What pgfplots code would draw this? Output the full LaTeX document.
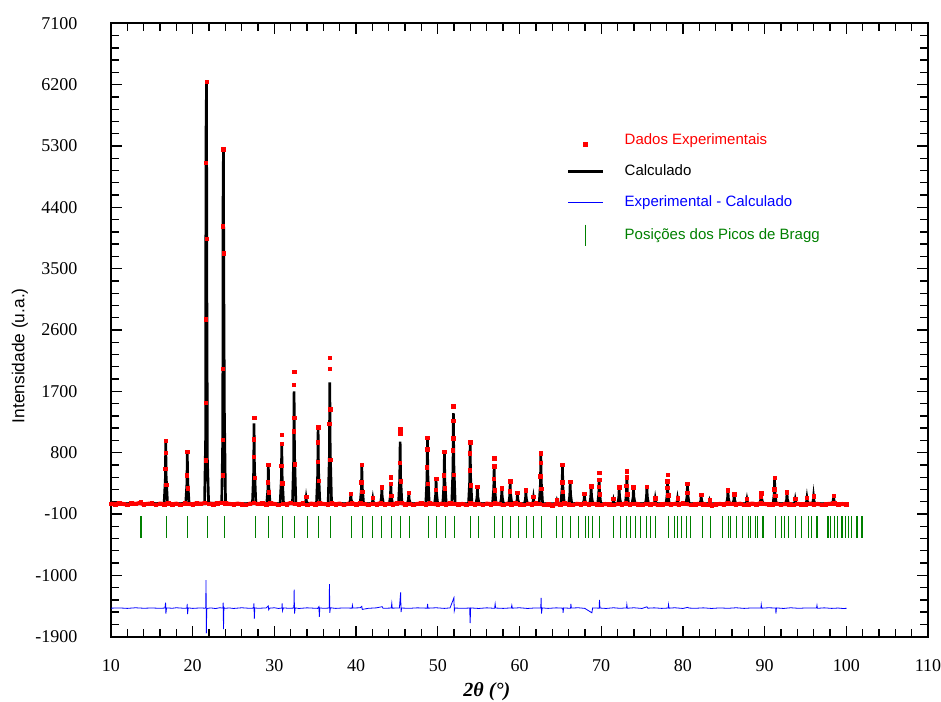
\documentclass[border=0pt]{standalone}
\usepackage{fontspec}
\setmainfont{Liberation Serif}
\newfontfamily\arialf{Liberation Sans}
\usepackage{pgfplots}
\usepackage{pgfplotstable}
\pgfplotsset{compat=1.18}
\definecolor{obsred}{RGB}{255,0,0}
\definecolor{bgreen}{RGB}{0,128,0}
\definecolor{dblue}{RGB}{0,0,255}
\pgfplotsset{
  linelegend/.style={legend image code/.code={\draw[##1] (0pt,0pt) -- (26pt,0pt);}},
  marklegend/.style={legend image code/.code={\draw[##1] plot coordinates {(13pt,-3pt)};}},
  barlegend/.style={legend image code/.code={\draw[##1] plot coordinates {(13pt,0pt)};}},
}

\pgfplotstableread[row sep=\\]{x y\\
10 52\\ 10.5 44\\ 11 58\\ 11.5 47\\ 12 39\\ 12.5 55\\ 13 49\\ 13.5 61\\ 14 42\\ 14.5 50\\
15 57\\ 15.5 38\\ 16 53\\ 16.5 46\\ 17 60\\ 17.5 41\\ 18 52\\ 18.5 35\\ 19 56\\ 19.5 48\\
20 43\\ 20.5 59\\ 21 50\\ 21.5 62\\ 22 54\\ 22.5 45\\ 23 57\\ 23.5 66\\ 24 58\\ 24.5 49\\
25 40\\ 25.5 53\\ 26 44\\ 26.5 36\\ 27 51\\ 27.5 63\\ 28 47\\ 28.5 55\\ 29 42\\ 29.5 58\\
30 49\\ 30.5 37\\ 31 54\\ 31.5 45\\ 32 61\\ 32.5 50\\ 33 43\\ 33.5 56\\ 34 39\\ 34.5 52\\
35 46\\ 35.5 60\\ 36 48\\ 36.5 41\\ 37 57\\ 37.5 44\\ 38 53\\ 38.5 35\\ 39 50\\ 39.5 58\\
40 42\\ 40.5 55\\ 41 47\\ 41.5 38\\ 42 52\\ 42.5 45\\ 43 59\\ 43.5 40\\ 44 51\\ 44.5 46\\
45 56\\ 45.5 62\\ 46 44\\ 46.5 53\\ 47 37\\ 47.5 49\\ 48 55\\ 48.5 43\\ 49 58\\ 49.5 47\\
50 40\\ 50.5 54\\ 51 46\\ 51.5 60\\ 52 52\\ 52.5 41\\ 53 48\\ 53.5 36\\ 54 57\\ 54.5 45\\
55 50\\ 55.5 39\\ 56 53\\ 56.5 44\\ 57 58\\ 57.5 47\\ 58 35\\ 58.5 52\\ 59 43\\ 59.5 55\\
60 46\\ 60.5 38\\ 61 51\\ 61.5 42\\ 62 56\\ 62.5 49\\ 63 37\\ 63.5 44\\ 64 30\\ 64.5 48\\
65 41\\ 65.5 55\\ 66 46\\ 66.5 36\\ 67 50\\ 67.5 43\\ 68 57\\ 68.5 40\\ 69 52\\ 69.5 45\\
70 38\\ 70.5 47\\ 71 42\\ 71.5 33\\ 72 49\\ 72.5 44\\ 73 56\\ 73.5 41\\ 74 52\\ 74.5 46\\
75 39\\ 75.5 53\\ 76 44\\ 76.5 49\\ 77 36\\ 77.5 45\\ 78 51\\ 78.5 40\\ 79 48\\ 79.5 43\\
80 55\\ 80.5 47\\ 81 38\\ 81.5 44\\ 82 50\\ 82.5 41\\ 83 35\\ 83.5 30\\ 84 42\\ 84.5 48\\
85 44\\ 85.5 56\\ 86 49\\ 86.5 43\\ 87 51\\ 87.5 37\\ 88 46\\ 88.5 53\\ 89 42\\ 89.5 57\\
90 48\\ 90.5 40\\ 91 45\\ 91.5 52\\ 92 38\\ 92.5 47\\ 93 44\\ 93.5 36\\ 94 50\\ 94.5 42\\
95 46\\ 95.5 53\\ 96 41\\ 96.5 48\\ 97 35\\ 97.5 44\\ 98 50\\ 98.5 55\\ 99 42\\ 99.5 47\\
100 44\\
}\obsbase

\pgfplotstableread[row sep=\\]{x y\\
13.67 75\\ 16.70 975\\ 16.65 560\\ 16.76 330\\ 16.68 800\\
19.34 810\\ 19.29 468\\ 19.40 278\\
21.69 6240\\ 21.63 5050\\ 21.73 3940\\ 21.61 2760\\ 21.60 1530\\ 21.58 690\\
23.76 5250\\ 23.71 4120\\ 23.80 3725\\ 23.71 2030\\ 23.70 990\\ 23.69 470\\
27.51 1310\\ 27.47 1000\\ 27.46 743\\ 27.57 428\\
29.26 620\\ 29.21 364\\ 29.32 221\\
30.90 1060\\ 30.87 930\\ 30.85 606\\ 30.96 353\\
32.41 1990\\ 32.40 1800\\ 32.44 1310\\ 32.36 1117\\ 32.47 632\\
33.88 150\\
35.35 1170\\ 35.31 950\\ 35.30 666\\ 35.41 386\\
36.78 2190\\ 36.78 2030\\ 36.84 1440\\ 36.73 1227\\ 36.85 692\\
39.35 200\\ 40.70 625\\ 40.65 366\\ 40.76 223\\ 42.05 140\\ 43.15 290\\ 44.25 440\\ 44.24 340\\ 44.31 167\\
45.39 1140\\ 45.38 1080\\ 45.35 650\\ 45.45 377\\ 46.45 210\\
48.73 1020\\ 48.69 850\\ 48.68 584\\ 48.79 341\\
49.79 420\\ 49.74 254\\ 50.81 810\\ 50.76 468\\ 50.87 278\\
51.91 1480\\ 51.90 1270\\ 51.87 1010\\ 51.86 836\\ 51.97 479\\
53.96 950\\ 53.92 790\\ 53.91 545\\ 54.02 320\\ 54.85 300\\
56.90 715\\ 56.89 600\\ 56.85 416\\ 56.96 250\\ 57.84 280\\ 58.86 380\\ 58.81 232\\ 59.75 210\\ 60.78 250\\ 61.71 150\\
62.61 790\\ 62.57 650\\ 62.56 457\\ 62.67 272\\ 64.57 110\\
65.26 625\\ 65.21 366\\ 65.32 223\\ 66.20 370\\ 67.95 200\\ 68.77 310\\
69.75 505\\ 69.74 400\\ 69.70 300\\ 69.81 187\\ 71.50 120\\ 72.20 290\\
73.14 525\\ 73.13 440\\ 73.09 311\\ 73.20 192\\ 73.95 290\\ 75.59 300\\ 76.61 130\\
78.12 475\\ 78.11 380\\ 78.07 284\\ 78.18 178\\ 79.34 130\\ 80.56 345\\ 80.51 212\\
82.24 180\\ 83.26 100\\ 85.51 250\\ 86.28 190\\ 87.84 120\\ 89.59 205\\ 89.54 150\\
91.22 435\\ 91.17 262\\ 91.28 166\\ 92.74 220\\ 93.75 120\\ 95.18 140\\ 95.99 160\\ 98.44 170\\
}\obspeak

\pgfplotstableread[row sep=\\]{x y\\
10 52\\ 13.5 50\\ 13.67 70\\ 13.85 50\\
16.5 50\\ 16.65 414\\ 16.70 960\\ 16.75 460\\ 16.92 50\\
19.14 50\\ 19.29 342\\ 19.34 780\\ 19.39 379\\ 19.56 50\\
21.45 50\\ 21.58 1000\\ 21.62 5370\\ 21.69 6250\\ 21.74 3000\\ 21.80 700\\ 21.95 60\\
23.55 60\\ 23.68 1040\\ 23.71 4420\\ 23.76 5250\\ 23.82 3000\\ 23.88 1400\\ 24.02 50\\
27.31 50\\ 27.46 522\\ 27.51 1230\\ 27.56 581\\ 27.73 50\\
29.06 50\\ 29.21 270\\ 29.26 600\\ 29.31 298\\ 29.48 50\\
30.70 50\\ 30.85 406\\ 30.90 940\\ 30.95 451\\ 31.12 50\\
32.21 50\\ 32.36 710\\ 32.41 1700\\ 32.46 793\\ 32.63 50\\
33.70 50\\ 33.83 82\\ 33.88 130\\ 33.93 86\\ 34.08 50\\
35.15 50\\ 35.30 490\\ 35.35 1150\\ 35.40 545\\ 35.57 50\\
36.58 50\\ 36.73 762\\ 36.78 1830\\ 36.83 851\\ 37.00 50\\
39.17 50\\ 39.30 106\\ 39.35 190\\ 39.40 113\\ 39.55 50\\
40.50 50\\ 40.65 270\\ 40.70 600\\ 40.75 298\\ 40.92 50\\
41.88 50\\ 42.00 78\\ 42.05 120\\ 42.10 82\\ 42.24 50\\
42.97 50\\ 43.10 138\\ 43.15 270\\ 43.20 149\\ 43.35 50\\
44.07 50\\ 44.20 162\\ 44.25 330\\ 44.30 176\\ 44.45 50\\
45.19 50\\ 45.34 414\\ 45.39 960\\ 45.44 460\\ 45.61 50\\
46.27 50\\ 46.40 106\\ 46.45 190\\ 46.50 113\\ 46.65 50\\
48.53 50\\ 48.68 434\\ 48.73 1010\\ 48.78 482\\ 48.95 50\\
49.61 50\\ 49.74 190\\ 49.79 400\\ 49.84 208\\ 49.99 50\\
50.61 50\\ 50.76 350\\ 50.81 800\\ 50.86 388\\ 51.03 50\\
51.71 50\\ 51.86 582\\ 51.91 1380\\ 51.96 649\\ 52.13 50\\
53.76 50\\ 53.91 406\\ 53.96 940\\ 54.01 451\\ 54.18 50\\
54.67 50\\ 54.80 142\\ 54.85 280\\ 54.90 154\\ 55.05 50\\
56.70 50\\ 56.85 278\\ 56.90 620\\ 56.95 307\\ 57.12 50\\
57.66 50\\ 57.79 134\\ 57.84 260\\ 57.89 145\\ 58.04 50\\
58.68 50\\ 58.81 174\\ 58.86 360\\ 58.91 190\\ 59.06 50\\
59.57 50\\ 59.70 106\\ 59.75 190\\ 59.80 113\\ 59.95 50\\
60.60 50\\ 60.73 118\\ 60.78 220\\ 60.83 127\\ 60.98 50\\
61.53 50\\ 61.66 82\\ 61.71 130\\ 61.76 86\\ 61.91 50\\
62.41 50\\ 62.56 342\\ 62.61 780\\ 62.66 379\\ 62.83 50\\
64.40 50\\ 64.52 66\\ 64.57 90\\ 64.62 68\\ 64.75 50\\
65.06 50\\ 65.21 270\\ 65.26 600\\ 65.31 298\\ 65.48 50\\
66.02 50\\ 66.15 170\\ 66.20 350\\ 66.25 185\\ 66.40 50\\
67.77 50\\ 67.90 102\\ 67.95 180\\ 68.00 108\\ 68.15 50\\
68.59 50\\ 68.72 146\\ 68.77 290\\ 68.82 158\\ 68.97 50\\
69.57 50\\ 69.70 190\\ 69.75 400\\ 69.80 208\\ 69.95 50\\
71.33 50\\ 71.45 70\\ 71.50 100\\ 71.55 72\\ 71.68 50\\
72.02 50\\ 72.15 138\\ 72.20 270\\ 72.25 149\\ 72.40 50\\
72.96 50\\ 73.09 210\\ 73.14 450\\ 73.19 230\\ 73.34 50\\
73.77 50\\ 73.90 138\\ 73.95 270\\ 74.00 149\\ 74.15 50\\
75.41 50\\ 75.54 146\\ 75.59 290\\ 75.64 158\\ 75.79 50\\
76.44 50\\ 76.56 78\\ 76.61 120\\ 76.66 82\\ 76.79 50\\
77.94 50\\ 78.07 182\\ 78.12 380\\ 78.17 199\\ 78.32 50\\
79.17 50\\ 79.29 78\\ 79.34 120\\ 79.39 82\\ 79.52 50\\
80.38 50\\ 80.51 166\\ 80.56 340\\ 80.61 181\\ 80.76 50\\
82.06 50\\ 82.19 94\\ 82.24 160\\ 82.29 100\\ 82.44 50\\
83.09 50\\ 83.21 66\\ 83.26 90\\ 83.31 68\\ 83.44 50\\
85.33 50\\ 85.46 126\\ 85.51 240\\ 85.56 136\\ 85.71 50\\
86.10 50\\ 86.23 102\\ 86.28 180\\ 86.33 108\\ 86.48 50\\
87.67 50\\ 87.79 74\\ 87.84 110\\ 87.89 77\\ 88.02 50\\
89.41 50\\ 89.54 118\\ 89.59 220\\ 89.64 127\\ 89.79 50\\
91.04 50\\ 91.17 190\\ 91.22 400\\ 91.27 208\\ 91.42 50\\
92.56 50\\ 92.69 110\\ 92.74 200\\ 92.79 118\\ 92.94 50\\
93.58 50\\ 93.70 74\\ 93.75 110\\ 93.80 77\\ 93.93 50\\
95.01 50\\ 95.13 82\\ 95.18 130\\ 95.23 86\\ 95.36 50\\
95.82 50\\ 95.94 90\\ 95.99 150\\ 96.04 95\\ 96.17 50\\
98.26 50\\ 98.39 94\\ 98.44 160\\ 98.49 100\\ 98.64 50\\
100.08 50\\
}\calc

\pgfplotstableread[row sep=\\]{x y\\
10 -1482\\ 11 -1478\\ 12 -1485\\ 13 -1476\\ 14 -1483\\ 15 -1479\\ 16 -1484\\ 16.6 -1480\\ 16.68 -1400\\ 16.72 -1560\\ 16.8 -1478\\
17.5 -1483\\ 18 -1476\\ 19 -1484\\ 19.3 -1480\\ 19.33 -1420\\ 19.37 -1570\\ 19.45 -1478\\ 20 -1485\\ 21 -1478\\ 21.5 -1483\\
21.6 -1470\\ 21.63 -1070\\ 21.67 -1850\\ 21.72 -1500\\ 21.8 -1485\\ 22.2 -1478\\ 22.8 -1487\\ 23.3 -1476\\ 23.7 -1480\\
23.73 -1400\\ 23.77 -1790\\ 23.82 -1470\\ 23.9 -1484\\ 24.5 -1479\\ 25 -1486\\ 26 -1476\\ 27 -1484\\ 27.45 -1480\\ 27.5 -1410\\
27.54 -1640\\ 27.6 -1478\\ 28 -1484\\ 29 -1478\\ 29.25 -1450\\ 29.3 -1505\\ 29.4 -1482\\ 30 -1476\\ 30.5 -1486\\ 30.92 -1480\\
30.95 -1410\\ 30.99 -1520\\ 31.1 -1478\\ 31.8 -1484\\ 32.38 -1480\\ 32.42 -1210\\ 32.46 -1560\\ 32.55 -1478\\ 33 -1486\\
34 -1477\\ 34.8 -1482\\ 35.3 -1485\\ 35.45 -1460\\ 35.5 -1610\\ 35.56 -1478\\ 36 -1484\\ 36.7 -1480\\ 36.74 -1130\\ 36.78 -1550\\
36.86 -1476\\ 37.5 -1485\\ 38.5 -1478\\ 39.5 -1482\\ 39.55 -1440\\ 39.6 -1480\\ 40.5 -1476\\ 40.7 -1455\\ 40.75 -1500\\
41.5 -1484\\ 42.5 -1477\\ 43.2 -1460\\ 43.3 -1484\\ 44.3 -1480\\ 44.37 -1410\\ 44.42 -1482\\ 45.3 -1478\\ 45.45 -1250\\
45.5 -1540\\ 45.58 -1480\\ 46.5 -1484\\ 47.5 -1477\\ 48.7 -1482\\ 48.75 -1420\\ 48.8 -1482\\ 49.8 -1476\\ 50.8 -1485\\
51.5 -1478\\ 51.97 -1330\\ 52.02 -1520\\ 52.1 -1480\\ 53 -1484\\ 53.9 -1480\\ 53.96 -1700\\ 54.02 -1478\\ 55 -1486\\ 56 -1477\\
56.95 -1484\\ 57.02 -1420\\ 57.08 -1480\\ 58 -1485\\ 59 -1478\\ 59.06 -1440\\ 59.12 -1482\\ 60 -1476\\ 61 -1486\\ 62 -1478\\
62.6 -1480\\ 62.65 -1330\\ 62.69 -1560\\ 62.78 -1478\\ 63.5 -1485\\ 64.5 -1477\\ 65.3 -1482\\ 65.33 -1550\\ 65.4 -1478\\
66.25 -1484\\ 66.29 -1420\\ 66.35 -1480\\ 67.2 -1476\\ 68 -1485\\ 68.86 -1550\\ 68.95 -1478\\ 69.75 -1482\\ 69.79 -1360\\
69.85 -1480\\ 70.6 -1486\\ 71.5 -1476\\ 72.3 -1484\\ 73.1 -1478\\ 73.14 -1430\\ 73.2 -1483\\ 74 -1476\\ 75 -1486\\
75.6 -1462\\ 75.7 -1482\\ 76.5 -1477\\ 77.4 -1485\\ 78.2 -1480\\ 78.24 -1430\\ 78.3 -1482\\ 79 -1476\\ 80 -1486\\ 80.6 -1470\\
80.7 -1480\\ 81.5 -1484\\ 82.5 -1477\\ 83.5 -1486\\ 84.5 -1478\\ 85.5 -1484\\ 86.5 -1476\\ 87.5 -1485\\ 88.5 -1478\\
89.55 -1480\\ 89.59 -1430\\ 89.65 -1482\\ 90.5 -1476\\ 91.35 -1480\\ 91.39 -1560\\ 91.45 -1478\\ 92.3 -1486\\ 93.2 -1476\\
94.2 -1484\\ 95.2 -1478\\ 96.35 -1480\\ 96.41 -1440\\ 96.47 -1484\\ 97.3 -1477\\ 98.2 -1485\\ 99 -1480\\ 99.6 -1487\\ 100.05 -1484\\
}\diff

\pgfplotstableread[row sep=\\]{x y\\
13.67 -290\\ 16.82 -290\\ 19.39 -290\\ 21.79 -290\\ 23.92 -290\\ 27.63 -290\\ 29.31 -290\\ 30.94 -290\\ 32.44 -290\\ 34.04 -290\\
35.43 -290\\ 36.82 -290\\ 39.47 -290\\ 40.73 -290\\ 42.04 -290\\ 43.15 -290\\ 44.37 -290\\ 45.47 -290\\ 46.49 -290\\ 48.85 -290\\
49.88 -290\\ 50.90 -290\\ 52.00 -290\\ 53.96 -290\\ 54.97 -290\\ 56.93 -290\\ 57.96 -290\\ 58.86 -290\\ 59.87 -290\\ 60.81 -290\\
61.71 -290\\ 62.74 -290\\ 64.57 -290\\ 65.31 -290\\ 66.29 -290\\ 67.22 -290\\ 68.04 -290\\ 68.44 -290\\ 68.98 -290\\ 69.79 -290\\
71.50 -290\\ 72.32 -290\\ 73.14 -290\\ 73.55 -290\\ 74.16 -290\\ 74.86 -290\\ 75.51 -290\\ 76.00 -290\\ 76.61 -290\\ 78.24 -290\\
78.94 -290\\ 79.34 -290\\ 79.88 -290\\ 80.41 -290\\ 80.89 -290\\ 82.40 -290\\ 83.34 -290\\ 84.85 -290\\ 85.58 -290\\ 85.88 -290\\
86.53 -290\\ 87.30 -290\\ 88.03 -290\\ 88.33 -290\\ 88.85 -290\\ 89.18 -290\\ 89.80 -290\\ 91.39 -290\\ 92.12 -290\\ 92.44 -290\\
92.93 -290\\ 93.75 -290\\ 94.57 -290\\ 95.38 -290\\ 95.71 -290\\ 96.41 -290\\ 97.76 -290\\ 98.12 -290\\ 98.53 -290\\ 98.93 -290\\
99.47 -290\\ 99.87 -290\\ 100.28 -290\\ 100.69 -290\\ 101.31 -290\\ 101.92 -290\\
}\bragg

\begin{document}
\begin{tikzpicture}
\useasboundingbox (-83.25pt,-49pt) rectangle (622.5pt,477.5pt);
\begin{axis}[
  at={(0,0)}, anchor=south west, scale only axis,
  width=612.75pt, height=460pt,
  xmin=10, xmax=110, ymin=-1900, ymax=7100,
  xtick={10,20,...,110}, ytick={-1900,-1000,...,7100},
  minor x tick num=4, minor y tick num=4,
  tick align=inside,
  major tick length=8pt, minor tick length=6pt,
  axis line style={line width=1.5pt},
  every tick/.style={black, line width=1pt},
  scaled ticks=false,
  tick label style={font=\fontsize{13.5}{15}\selectfont},
  /pgf/number format/assume math mode=true,
  /pgf/number format/1000 sep={},
  yticklabel style={xshift=-21.75pt},
  xticklabel style={yshift=-13.5pt},
  xlabel={\fontsize{15}{17}\selectfont\bfseries\itshape 2θ (°)},
  xlabel style={at={([yshift=-41.25pt]rel axis cs:0.46,0)}, anchor=center},
  ylabel={\arialf\fontsize{13}{15}\selectfont Intensidade (u.a.)},
  ylabel style={at={([xshift=-68.25pt]rel axis cs:0,0.458)}, anchor=center},
  legend style={draw=none, fill=none, at={(0.5525,0.829)}, anchor=north west,
    font=\arialf\fontsize{11.25}{13}\selectfont, row sep=9.7pt, column sep=13.5pt},
  legend cell align=left,
]
\addplot[obsred, line width=3pt, forget plot] table {\obsbase};
\addplot[only marks, mark=square*, mark size=1.3pt, color=obsred, marklegend] table {\obsbase};
\addlegendentry{\textcolor{obsred}{Dados Experimentais}}
\addplot[only marks, mark=square*, mark size=1.3pt, color=obsred, forget plot] table {\obspeak};
\addplot[black, line width=2pt, linelegend] table {\calc};
\addlegendentry{\textcolor{black}{Calculado}}
\addplot[dblue, line width=0.6pt, linelegend] table {\diff};
\addlegendentry{\textcolor{dblue}{Experimental - Calculado}}
\addplot[only marks, mark=|, mark size=8.1pt, color=bgreen, mark options={line width=0.8pt}, barlegend] table {\bragg};
\addlegendentry{\textcolor{bgreen}{Posições dos Picos de Bragg}}
\end{axis}
\end{tikzpicture}
\end{document}
